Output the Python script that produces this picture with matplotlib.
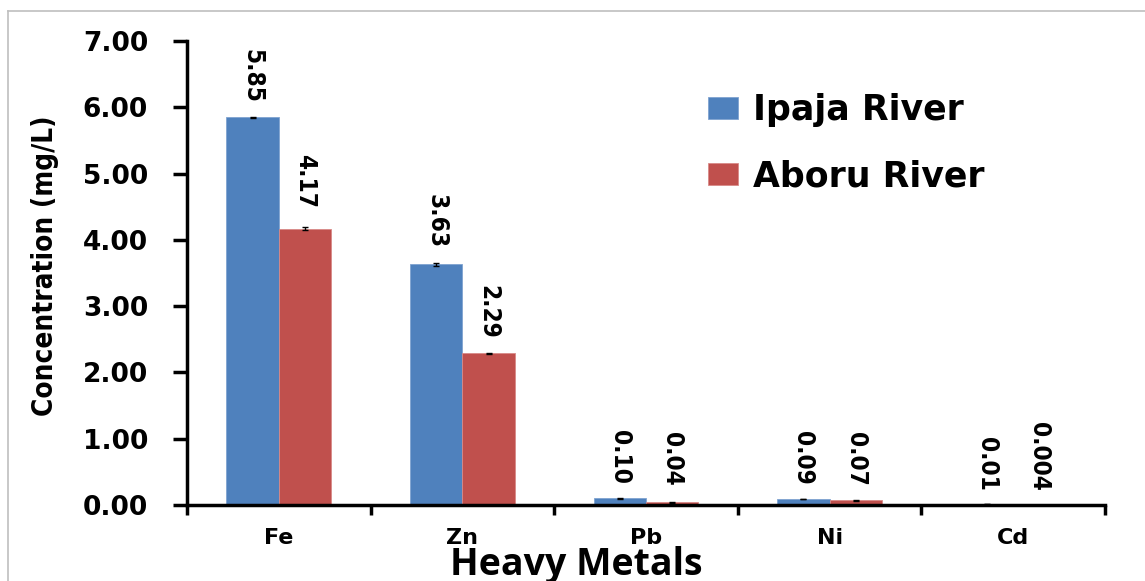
import matplotlib
matplotlib.use("Agg")
import matplotlib.pyplot as plt
import numpy as np
from matplotlib import font_manager
from matplotlib.lines import Line2D

metals = ["Fe", "Zn", "Pb", "Ni", "Cd"]
ipaja = [5.85, 3.63, 0.10, 0.09, 0.01]
aboru = [4.17, 2.29, 0.04, 0.07, 0.004]
ipaja_err = [0.01, 0.02, 0.005, 0.005, 0.001]
aboru_err = [0.02, 0.01, 0.005, 0.005, 0.001]
ipaja_txt = ["5.85", "3.63", "0.10", "0.09", "0.01"]
aboru_txt = ["4.17", "2.29", "0.04", "0.07", "0.004"]

# label nudges above each bar (points)
ipaja_nudge = [10, 11, 10, 10, 10]
aboru_nudge = [14, 10, 12, 10, 10]

blue = "#4F81BD"
red = "#C0504D"


def narrow_font():
    # look for an installed bold narrow/condensed face
    wanted = ["LiberationSansNarrow-Bold", "DejaVuSansCondensed-Bold",
              "RobotoCondensed-Bold", "OpenSans_Condensed-Bold", "OpenSansCondensed-Bold"]
    files = [f.fname for f in font_manager.fontManager.ttflist]
    for w in wanted:
        for fn in files:
            if w.lower() in fn.lower().replace(" ", ""):
                return fn
    for fn in files:
        low = fn.lower()
        if ("narrow" in low or "condensed" in low) and "bold" in low:
            return fn
    return None


nf = narrow_font()


def nprops(size):
    if nf:
        return font_manager.FontProperties(fname=nf, size=size)
    return font_manager.FontProperties(family="DejaVu Sans", weight="bold", size=size * 0.8)


fig = plt.figure(figsize=(11.45, 5.81), dpi=100)
ax = fig.add_axes([187 / 1145, 1 - 505 / 581, (1105 - 187) / 1145, (505 - 41) / 581])

x = np.arange(len(metals))
w = 0.285
ax.bar(x - w / 2, ipaja, w, color=blue, edgecolor="#7fa3d0", linewidth=0.6,
       yerr=ipaja_err, error_kw=dict(ecolor="black", capsize=2.5, elinewidth=1, capthick=1),
       label="Ipaja River", zorder=2)
ax.bar(x + w / 2, aboru, w, color=red, edgecolor="#d88a88", linewidth=0.6,
       yerr=aboru_err, error_kw=dict(ecolor="black", capsize=2.5, elinewidth=1, capthick=1),
       label="Aboru River", zorder=2)

for xs, vals, errs, txts, nudges in [(x - w / 2, ipaja, ipaja_err, ipaja_txt, ipaja_nudge),
                                     (x + w / 2, aboru, aboru_err, aboru_txt, aboru_nudge)]:
    for xi, v, e, t, n in zip(xs, vals, errs, txts, nudges):
        ax.annotate(t, (xi, v + e), xytext=(0, n), textcoords="offset points",
                    rotation=270, ha="center", va="bottom",
                    fontproperties=nprops(17.5), color="black")

ax.set_xlim(-0.5, len(metals) - 0.5)
ax.set_ylim(0, 7)
ax.set_yticks(np.arange(0, 8, 1))
ax.set_yticklabels([f"{v:.2f}" for v in np.arange(0, 8, 1)],
                   fontsize=19, fontweight="bold", family="DejaVu Sans")
ax.set_xticks(x)
ax.set_xticklabels(metals, fontsize=16, fontweight="bold", family="DejaVu Sans")
ax.set_xticks(np.arange(-0.5, len(metals)), minor=True)
ax.tick_params(axis="x", which="major", length=0, pad=16.5)
ax.tick_params(axis="x", which="minor", length=7, width=2.5, direction="out")
ax.tick_params(axis="y", which="major", length=10, width=2.5, pad=18, direction="out")

for s in ["top", "right"]:
    ax.spines[s].set_visible(False)
for s in ["left", "bottom"]:
    ax.spines[s].set_linewidth(2.5)
ax.spines["bottom"].set_zorder(3)

fig.text(45 / 1145, 1 - 266 / 581, "Concentration (mg/L)", rotation=90,
         ha="center", va="center", fontproperties=nprops(20))
fig.text(576 / 1145, 1 - 575 / 581, "Heavy Metals", ha="center", va="baseline",
         fontsize=27, fontweight="bold", family=["Open Sans", "DejaVu Sans"])

ax.legend(loc="upper left", bbox_to_anchor=(677 / 1145, 1 - 62 / 581),
          bbox_transform=fig.transFigure, frameon=False,
          prop=dict(size=25, weight="bold", family="DejaVu Sans"),
          handlelength=0.85, handleheight=0.6, handletextpad=0.45,
          labelspacing=0.93)

# thin gray frame along the top and left of the figure
fig.add_artist(Line2D([8 / 1145, 8 / 1145], [0, 1 - 11 / 581], transform=fig.transFigure,
                      color="#bfbfbf", linewidth=1.2))
fig.add_artist(Line2D([8 / 1145, 1], [1 - 11 / 581, 1 - 11 / 581], transform=fig.transFigure,
                      color="#bfbfbf", linewidth=1.2))

fig.savefig("out.png", dpi=100)
